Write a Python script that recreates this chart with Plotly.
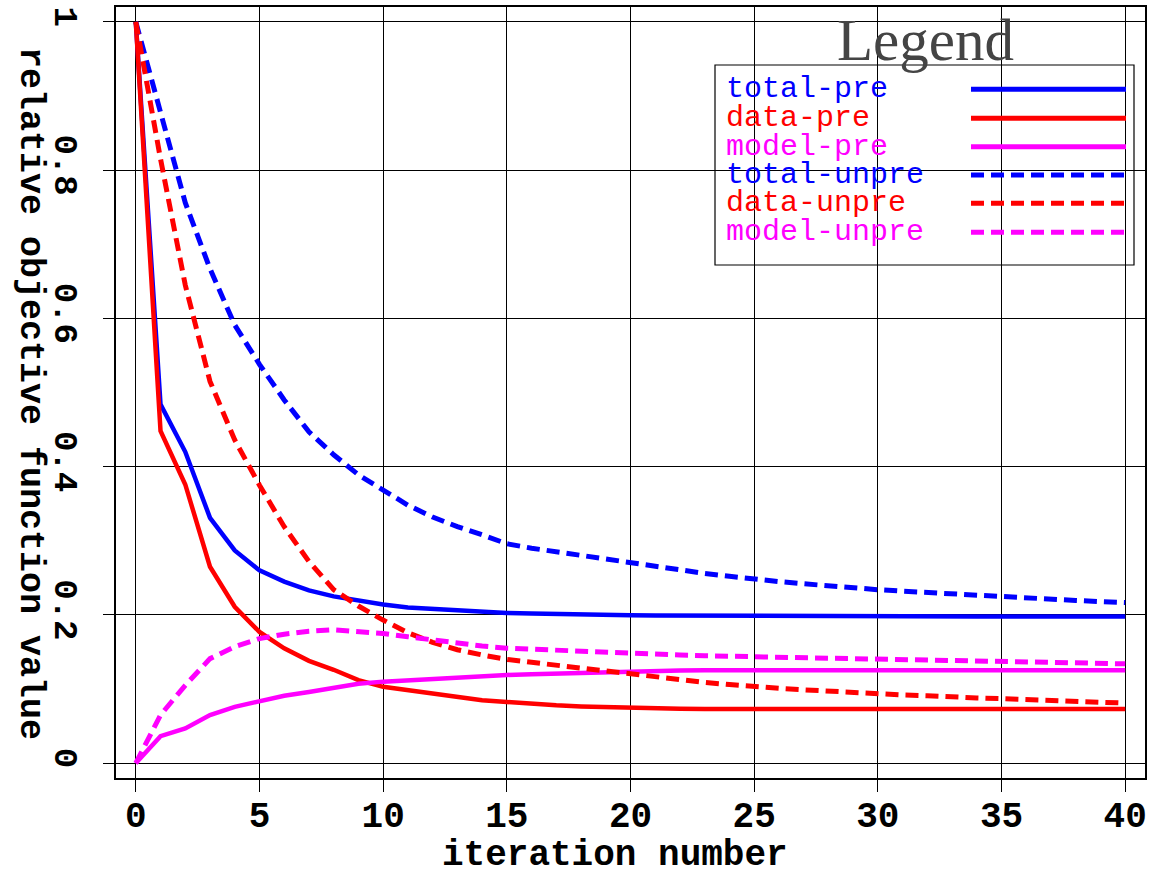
import plotly.graph_objects as go

# ---------------- data ----------------
iterations = list(range(0, 41))

total_pre = [1.0, 0.484, 0.420, 0.331, 0.287, 0.260, 0.245, 0.233, 0.225, 0.219,
             0.214, 0.210, 0.208, 0.206, 0.204, 0.2025, 0.202, 0.201, 0.2005, 0.200,
             0.1995, 0.1992, 0.199, 0.1988, 0.1986, 0.1985, 0.1984, 0.1983, 0.1982, 0.1982,
             0.1981, 0.1981, 0.198, 0.198, 0.198, 0.198, 0.198, 0.198, 0.198, 0.198, 0.198]

data_pre = [1.0, 0.448, 0.376, 0.265, 0.211, 0.177, 0.155, 0.138, 0.126, 0.112,
            0.103, 0.0985, 0.094, 0.0895, 0.085, 0.0825, 0.080, 0.078, 0.0765, 0.0755,
            0.074, 0.0736, 0.0733, 0.0731, 0.073, 0.073, 0.073, 0.073, 0.073, 0.073,
            0.073, 0.073, 0.073, 0.073, 0.073, 0.073, 0.073, 0.073, 0.073, 0.073, 0.073]

model_pre = [0.0, 0.0364, 0.0468, 0.0648, 0.076, 0.084, 0.091, 0.096, 0.101, 0.107,
             0.110, 0.112, 0.114, 0.1165, 0.118, 0.119, 0.120, 0.121, 0.122, 0.123,
             0.1245, 0.125, 0.125, 0.1252, 0.1254, 0.1255, 0.1255, 0.1255, 0.1255, 0.1255,
             0.1255, 0.1255, 0.1255, 0.1255, 0.1255, 0.1255, 0.1255, 0.1255, 0.1255, 0.1255, 0.1255]

total_unpre = [1.0, 0.878, 0.756, 0.667, 0.591, 0.538, 0.490, 0.447, 0.416, 0.389,
               0.368, 0.348, 0.332, 0.319, 0.308, 0.296, 0.290, 0.285, 0.280, 0.275,
               0.2695, 0.265, 0.260, 0.256, 0.252, 0.248, 0.245, 0.242, 0.239, 0.237,
               0.234, 0.232, 0.230, 0.228, 0.226, 0.2245, 0.223, 0.221, 0.2195, 0.218, 0.2168]

data_unpre = [1.0, 0.815, 0.645, 0.515, 0.436, 0.375, 0.319, 0.272, 0.234, 0.212,
              0.193, 0.176, 0.163, 0.153, 0.146, 0.140, 0.136, 0.132, 0.128, 0.124,
              0.121, 0.117, 0.113, 0.109, 0.106, 0.103, 0.101, 0.099, 0.097, 0.095,
              0.093, 0.092, 0.091, 0.089, 0.088, 0.087, 0.086, 0.085, 0.083, 0.082, 0.081]

model_unpre = [0.0, 0.065, 0.105, 0.141, 0.157, 0.168, 0.174, 0.178, 0.180, 0.178,
               0.175, 0.1705, 0.166, 0.162, 0.158, 0.155, 0.1535, 0.152, 0.1505, 0.149,
               0.148, 0.147, 0.146, 0.145, 0.144, 0.1435, 0.143, 0.142, 0.1415, 0.141,
               0.1404, 0.1396, 0.1389, 0.1382, 0.1375, 0.1367, 0.136, 0.1355, 0.135, 0.1345, 0.134]

series_names = ["total-pre", "data-pre", "model-pre", "total-unpre", "data-unpre", "model-unpre"]
series_values = [total_pre, data_pre, model_pre, total_unpre, data_unpre, model_unpre]
series_colors = ["#0000ff", "#ff0000", "#ff00ff", "#0000ff", "#ff0000", "#ff00ff"]
series_dash = ["solid", "solid", "solid", "13px,7px", "13px,7px", "13px,7px"]

x_ticks = [0, 5, 10, 15, 20, 25, 30, 35, 40]
y_ticks = [0, 0.2, 0.4, 0.6, 0.8, 1]
y_tick_text = ["0", "0.2", "0.4", "0.6", "0.8", "1"]

# ---------------- layout geometry (pixels) ----------------
W, H = 1158, 877
L, R, T, B = 116, 13, 7, 99
PW, PH = W - L - R, H - T - B


def px(xp):
    return (xp - L) / PW


def py(yp):
    return (H - B - yp) / PH


fig = go.Figure()
for name, vals, col, dash in zip(series_names, series_values, series_colors, series_dash):
    fig.add_trace(go.Scatter(
        x=iterations, y=vals, mode="lines", name=name,
        line=dict(color=col, width=4.5 if dash == "solid" else 5, dash=dash),
        showlegend=False,
    ))

fig.update_layout(
    width=W, height=H,
    margin=dict(l=L, r=R, t=T, b=B, pad=0, autoexpand=False),
    paper_bgcolor="white", plot_bgcolor="white",
    xaxis=dict(
        range=[-0.8, 40.8], tickvals=x_ticks, ticktext=[str(v) for v in x_ticks],
        showgrid=True, gridcolor="black", gridwidth=1.2, automargin=False,
        zeroline=False, showline=True, linecolor="black", linewidth=1.5, mirror=True,
        ticks="outside", ticklen=12, tickwidth=1.2, tickcolor="black",
        tickfont=dict(family="Liberation Mono", size=36, color="black", weight="bold"),
        ticklabelstandoff=-8,
    ),
    yaxis=dict(
        range=[-0.02, 1.02], tickvals=y_ticks, ticktext=y_tick_text,
        showgrid=True, gridcolor="black", gridwidth=1.2, automargin=False,
        zeroline=False, showline=True, linecolor="black", linewidth=1.5, mirror=True,
        ticks="outside", ticklen=11, tickwidth=1.2, tickcolor="black",
        tickfont=dict(family="Liberation Mono", size=34, color="black", weight="bold"),
        tickangle=90, ticklabelstandoff=7,
    ),
)

annotations = []
# axis titles
annotations.append(dict(
    text="<b>iteration number</b>", x=px(615), y=py(855), xref="paper", yref="paper",
    showarrow=False, xanchor="center", yanchor="middle",
    font=dict(family="Liberation Mono", size=36, color="black"),
))
annotations.append(dict(
    text="<b>relative objective function value</b>", x=px(30), y=py(393),
    xref="paper", yref="paper", showarrow=False, textangle=90,
    xanchor="center", yanchor="middle",
    font=dict(family="Liberation Mono", size=35, color="black"),
))
# legend title
annotations.append(dict(
    text="Legend", x=px(925), y=py(40), xref="paper", yref="paper",
    showarrow=False, xanchor="center", yanchor="middle",
    font=dict(family="Liberation Serif", size=59, color="#444444"),
))

shapes = []
shapes.append(dict(type="rect", xref="paper", yref="paper",
                   x0=px(715), x1=px(1134), y0=py(65), y1=py(265),
                   line=dict(color="black", width=1.2), fillcolor="rgba(0,0,0,0)", layer="above"))

row_y = [89.3, 118.3, 146.7, 175.0, 203.3, 232.3]
for name, col, dash, yy in zip(series_names, series_colors, series_dash, row_y):
    annotations.append(dict(
        text=name, x=px(724), y=py(yy), xref="paper", yref="paper",
        showarrow=False, xanchor="left", yanchor="middle",
        font=dict(family="Liberation Mono", size=30, color=col),
    ))
    shapes.append(dict(type="line", xref="paper", yref="paper",
                       x0=px(971), x1=px(1126), y0=py(yy), y1=py(yy),
                       line=dict(color=col, width=5, dash=dash), layer="above"))

fig.update_layout(annotations=annotations, shapes=shapes)

fig.write_html(
    "out.html",
    config={"displayModeBar": False},
    post_script="document.body.style.margin='0';document.body.style.overflow='hidden';",
)
